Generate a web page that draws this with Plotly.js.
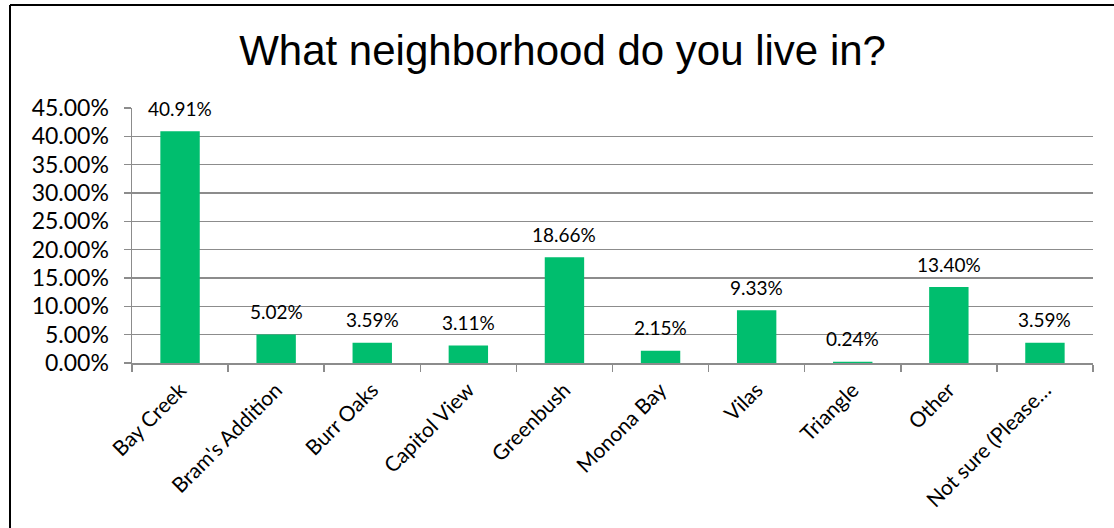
<!DOCTYPE html>
<html>
<head>
<meta charset="utf-8">
<script src="https://cdn.plot.ly/plotly-3.0.1.min.js"></script>
<style>
html,body{margin:0;padding:0;background:#fff;}
#chart{width:1114px;height:528px;}
</style>
</head>
<body>
<div id="chart"></div>
<script>
const categories = ["Bay Creek","Bram's Addition","Burr Oaks","Capitol View","Greenbush","Monona Bay","Vilas","Triangle","Other","Not sure (Please…"];
const values = [0.4091,0.0502,0.0359,0.0311,0.1866,0.0215,0.0933,0.0024,0.1340,0.0359];
const yTicks = [0,0.05,0.10,0.15,0.20,0.25,0.30,0.35,0.40,0.45];
const titleText = "What neighborhood do you live in?";

const W = 1114, H = 528;
const M = {l:132, r:21, t:108, b:165};
const pw = W - M.l - M.r, ph = H - M.t - M.b;
const px = x => (x - M.l) / pw;
const py = y => (H - M.b - y) / ph;
const pct = v => (v*100).toFixed(2) + '%';

const trace = {
  type: 'bar',
  x: categories,
  y: values,
  marker: {color: '#00BE6E'},
  hoverinfo: 'none'
};

const labelAnnotations = categories.map((c, i) => ({
  x: c, y: values[i], xref: 'x', yref: 'y',
  text: pct(values[i]),
  showarrow: false,
  xanchor: 'center', yanchor: 'middle',
  yshift: 23,
  font: {family: 'Lato, sans-serif', size: 19, color: '#000'}
}));

const layout = {
  width: W, height: H,
  margin: M,
  paper_bgcolor: '#fff',
  plot_bgcolor: '#fff',
  showlegend: false,
  bargap: 0.59,
  title: {
    text: titleText,
    font: {family: 'Liberation Sans, Arial, sans-serif', size: 42, color: '#000'},
    x: 0.505, xref: 'container', xanchor: 'center',
    y: 1 - 50/H, yref: 'container', yanchor: 'middle'
  },
  xaxis: {
    type: 'category',
    tickson: 'boundaries',
    ticks: 'outside', ticklen: 7, tickcolor: '#8c8c8c', tickwidth: 1.5,
    showline: true, linecolor: '#8c8c8c', linewidth: 1.5,
    showgrid: false,
    tickangle: -45,
    ticklabelstandoff: 5,
    tickfont: {family: 'Lato, sans-serif', size: 21, color: '#000'},
    fixedrange: true
  },
  yaxis: {
    range: [0, 0.45],
    tickvals: yTicks,
    ticktext: yTicks.map(pct),
    ticks: 'outside', ticklen: 7, tickcolor: '#8c8c8c', tickwidth: 1.5,
    showline: true, linecolor: '#8c8c8c', linewidth: 1.5,
    showgrid: true, gridcolor: '#8c8c8c', gridwidth: 1.5,
    zeroline: false,
    tickfont: {family: 'Lato, sans-serif', size: 23, color: '#000'},
    ticklabelstandoff: 10,
    fixedrange: true
  },
  annotations: labelAnnotations,
  shapes: [
    {type:'line', xref:'paper', yref:'paper', x0:px(10), x1:px(1120), y0:py(5), y1:py(5), line:{color:'#000', width:2}},
    {type:'line', xref:'paper', yref:'paper', x0:px(10), x1:px(10), y0:py(5), y1:py(535), line:{color:'#000', width:2}}
  ]
};

Plotly.newPlot('chart', [trace], layout, {displayModeBar: false, staticPlot: true});
</script>
</body>
</html>
